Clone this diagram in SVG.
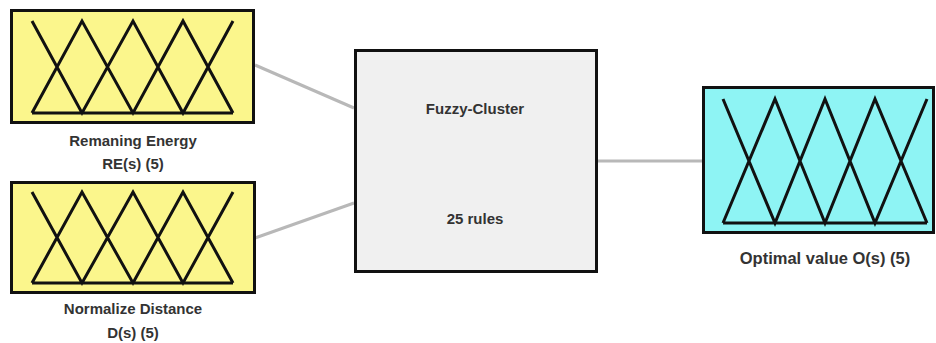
<svg xmlns="http://www.w3.org/2000/svg" width="936" height="343" viewBox="0 0 936 343">
<style>
.box{stroke:#111;stroke-width:3}
.in{fill:#fbf68c}
.out{fill:#8ef4f4}
.ctr{fill:#f0f0f0}
.mf{fill:none;stroke:#111;stroke-width:3;stroke-linejoin:miter}
.conn{stroke:#b8b8b8;stroke-width:3;fill:none}
text{font-family:"Liberation Sans",Arial,sans-serif;font-weight:bold;font-size:15px;fill:#333;text-anchor:middle}
.big{font-size:16.5px}
</style>
<rect width="936" height="343" fill="#fff"/>
<g id="connectors">
<line class="conn" x1="255" y1="65" x2="354" y2="108"/>
<line class="conn" x1="255" y1="238" x2="354" y2="203"/>
<line class="conn" x1="597" y1="161" x2="704" y2="161"/>
</g>
<g id="remaining-energy">
<rect class="box in" x="11.5" y="10.5" width="242" height="112"/>
<path class="mf" d="M32,21 L82,113 L133,21 L183,113 L233,21 M32,113 L82,21 L133,113 L183,21 L233,113 M32,113 L233,113"/>
<text x="133" y="146">Remaning Energy</text>
<text x="133" y="169">RE(s) (5)</text>
</g>
<g id="normalize-distance">
<rect class="box in" x="11.5" y="182.5" width="243" height="110"/>
<path class="mf" d="M32,192 L82,283 L133,192 L183,283 L233,192 M32,283 L82,192 L133,283 L183,192 L233,283 M32,283 L233,283"/>
<text x="133" y="314">Normalize Distance</text>
<text x="133" y="338">D(s) (5)</text>
</g>
<g id="fuzzy-cluster">
<rect class="box ctr" x="355.5" y="50.5" width="241" height="221"/>
<text x="475" y="114">Fuzzy-Cluster</text>
<text x="475" y="224">25 rules</text>
</g>
<g id="optimal-value">
<rect class="box out" x="703.5" y="87.5" width="230" height="145"/>
<path class="mf" d="M723,99 L775,223 L825,99 L875,223 L927,99 M723,223 L775,99 L825,223 L875,99 L927,223 M723,223 L927,223"/>
<text class="big" x="825" y="264">Optimal value O(s) (5)</text>
</g>
</svg>
